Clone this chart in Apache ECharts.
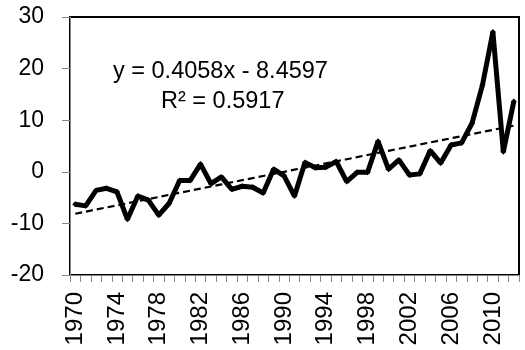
<!DOCTYPE html>
<html>
<head>
<meta charset="utf-8">
<script src="https://cdn.jsdelivr.net/npm/echarts@6/dist/echarts.min.js"></script>
<style>
  html, body { margin: 0; padding: 0; background: #fff; }
  #chart { width: 525px; height: 350px; }
</style>
</head>
<body>
<div id="chart"></div>
<script>
var years = [];
for (var yr = 1970; yr <= 2012; yr++) years.push(String(yr));

// values
var values = [
  -6.3, -6.6, -3.6, -3.2, -3.9, -9.2, -4.7, -5.5, -8.4, -6.1,
  -1.7, -1.7, 1.5, -2.3, -1.0, -3.4, -2.8, -3.0, -4.1, 0.5,
  -0.8, -4.7, 1.8, 0.8, 0.9, 2.0, -1.9, -0.1, -0.1, 5.9,
  0.5, 2.3, -0.6, -0.4, 4.1, 1.7, 5.2, 5.6, 9.4, 16.8,
  27.1, 3.9, 13.6
];

var eqText = "y = 0.4058x - 8.4597";
var r2Text = "R\u00B2 = 0.5917";

// linear trend (least squares on x = 1..n, as Excel does)
var n = values.length, sx = 0, sy = 0, sxy = 0, sxx = 0;
values.forEach(function (v, i) {
  var x = i + 1;
  sx += x; sy += v; sxy += x * v; sxx += x * x;
});
var slope = (n * sxy - sx * sy) / (n * sxx - sx * sx);
var intercept = (sy - slope * sx) / n;
var trend = values.map(function (v, i) { return slope * (i + 1) + intercept; });

var font = "Liberation Sans";
var chart = echarts.init(document.getElementById("chart"));

var option = {
  animation: false,
  grid: {
    left: 70, right: 6, top: 17, bottom: 75,
    show: true, borderColor: "#000", borderWidth: 2, backgroundColor: "#fff"
  },
  xAxis: {
    type: "category",
    data: years,
    boundaryGap: true,
    axisLine: { show: true, onZero: false, lineStyle: { color: "#888", width: 1 } },
    axisTick: { show: true, interval: 0, length: 7, lineStyle: { color: "#888" } },
    axisLabel: {
      interval: 3, rotate: 90, margin: 17,
      color: "#000", fontFamily: font, fontSize: 24
    },
    splitLine: { show: false }
  },
  yAxis: {
    type: "value",
    min: -20, max: 30, interval: 10,
    axisLine: { show: true, lineStyle: { color: "#888", width: 1 } },
    axisTick: { show: true, length: 8, lineStyle: { color: "#888" } },
    axisLabel: { color: "#000", fontFamily: font, fontSize: 23, margin: 26 },
    splitLine: { show: false }
  },
  graphic: [
    {
      type: "text", left: 113, top: 60,
      style: { text: eqText, font: "23.5px " + font, fill: "#000" }
    },
    {
      type: "text", left: 161, top: 90,
      style: { text: r2Text, font: "23.5px " + font, fill: "#000" }
    }
  ],
  series: [
    {
      type: "line",
      data: values,
      symbol: "diamond",
      symbolSize: 6,
      itemStyle: { color: "#000" },
      lineStyle: { color: "#000", width: 5 },
      z: 3
    },
    {
      type: "line",
      data: trend,
      symbol: "none",
      lineStyle: { color: "#000", width: 2.2, type: [7, 4] },
      z: 4
    }
  ]
};

option && chart.setOption(option);
</script>
</body>
</html>
